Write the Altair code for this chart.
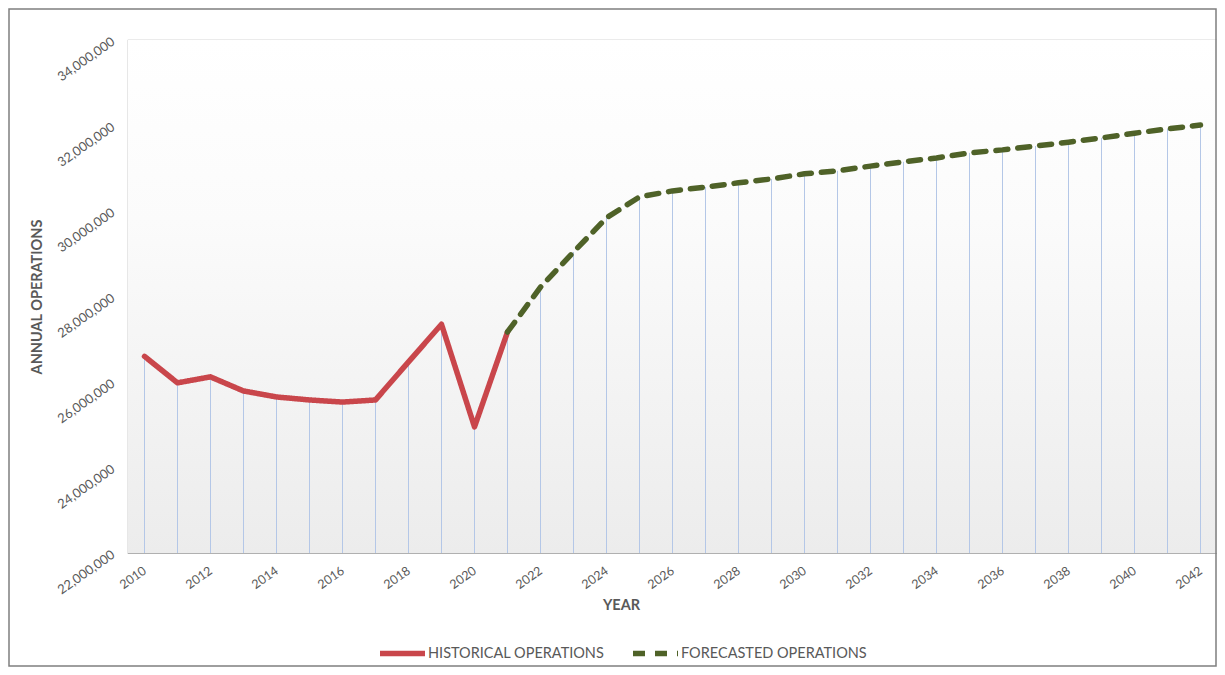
import altair as alt
import pandas as pd

HIST = "HISTORICAL OPERATIONS"
FCST = "FORECASTED OPERATIONS"

hist_years = list(range(2010, 2022))
hist_values = [26.60, 25.98, 26.12, 25.79, 25.65, 25.58, 25.53, 25.58, 26.47, 27.35, 24.95, 27.17]

fc_years = list(range(2021, 2043))
fc_values = [27.17, 28.22, 29.04, 29.84, 30.33, 30.47, 30.56, 30.66, 30.75, 30.87, 30.94,
             31.05, 31.15, 31.24, 31.36, 31.43, 31.52, 31.61, 31.71, 31.82, 31.92, 32.01]

y_ticks = [22000000, 24000000, 26000000, 28000000, 30000000, 32000000, 34000000]
x_ticks = list(range(2010, 2043, 2))

rows = [{"series": HIST, "year": y, "ops": v * 1e6} for y, v in zip(hist_years, hist_values)]
rows += [{"series": FCST, "year": y, "ops": v * 1e6} for y, v in zip(fc_years, fc_values)]
df = pd.DataFrame(rows)

drop_rows = [{"year": y, "ops": v * 1e6} for y, v in zip(hist_years, hist_values) if y < 2021]
drop_rows += [{"year": y, "ops": v * 1e6} for y, v in zip(fc_years, fc_values)]
drops = pd.DataFrame(drop_rows)

TXT = "#595959"

x_enc = alt.X(
    "year:Q",
    scale=alt.Scale(domain=[2009.5, 2042.5], nice=False, zero=False),
    axis=alt.Axis(
        values=x_ticks, format="d", labelAngle=-35, labelAlign="right",
        labelBaseline="middle", labelPadding=16, ticks=False, domain=False, grid=False,
        labelColor=TXT, labelFontSize=12.5, title="YEAR", titleColor=TXT,
        titleFontSize=14.5, titleFontWeight="bold", titleX=493, titleY=52,
        titleBaseline="middle", titleAlign="center",
    ),
)
y_enc = alt.Y(
    "ops:Q",
    scale=alt.Scale(domain=[22000000, 34000000], nice=False, zero=False),
    axis=alt.Axis(
        values=y_ticks, format=",d", labelAngle=-35, labelAlign="right",
        labelBaseline="middle", labelPadding=15, ticks=False, domain=False, grid=False,
        labelColor=TXT, labelFontSize=13, title="ANNUAL OPERATIONS", titleColor=TXT,
        titleFontSize=14.5, titleFontWeight="bold", titleX=-91, titleY=256.5,
        titleAngle=-90, titleBaseline="middle", titleAlign="center",
    ),
)

bg = alt.Chart(alt.Data(values=[{}])).mark_rect(
    color=alt.LinearGradient(
        gradient="linear",
        stops=[alt.GradientStop(offset=0, color="#ffffff"),
               alt.GradientStop(offset=0.35, color="#fbfbfb"),
               alt.GradientStop(offset=1, color="#ececec")],
        x1=0, x2=0, y1=0, y2=1,
    )
).encode(x=alt.value(0), x2=alt.value("width"), y=alt.value(0), y2=alt.value("height"))

frame = alt.Chart(alt.Data(values=[{}])).mark_rect(
    fill=None, stroke="#7f7f7f", strokeWidth=1.5
).encode(x=alt.value(-119), x2=alt.value(1088), y=alt.value(-31), y2=alt.value(626))

drop = alt.Chart(drops).mark_rule(color="#b4c7e7", strokeWidth=1).encode(
    x=x_enc, y=y_enc, y2=alt.value("height")
)

leg = alt.Legend(
    title=None, orient="none", direction="horizontal", legendX=249, legendY=588,
    symbolType="stroke", symbolSize=2025, symbolStrokeWidth=5.5,
    labelFontSize=14.5, labelColor=TXT, labelOffset=0, columnPadding=17,
    gridAlign="none", labelLimit=400,
)

lines = alt.Chart(df).mark_line(strokeCap="round", strokeJoin="round", strokeWidth=5.5).encode(
    x=x_enc,
    y=y_enc,
    color=alt.Color(
        "series:N",
        scale=alt.Scale(domain=[HIST, FCST], range=["#c9464b", "#4f6228"]),
        legend=leg,
    ),
    strokeDash=alt.StrokeDash(
        "series:N",
        scale=alt.Scale(domain=[HIST, FCST], range=[[1, 0], [12, 10]]),
        legend=leg,
    ),
    detail="series:N",
)

chart = alt.layer(bg, drop, lines, frame).properties(
    width=1089,
    height=513,
    autosize=alt.AutoSizeParams(type="none"),
    padding={"left": 120, "top": 32, "right": 0, "bottom": 114},
).configure(
    font="Lato",
).configure_view(
    stroke="#b0b0b0", strokeWidth=1.2,
)

chart.save("out.html", embed_options={"renderer": "svg", "actions": False})
